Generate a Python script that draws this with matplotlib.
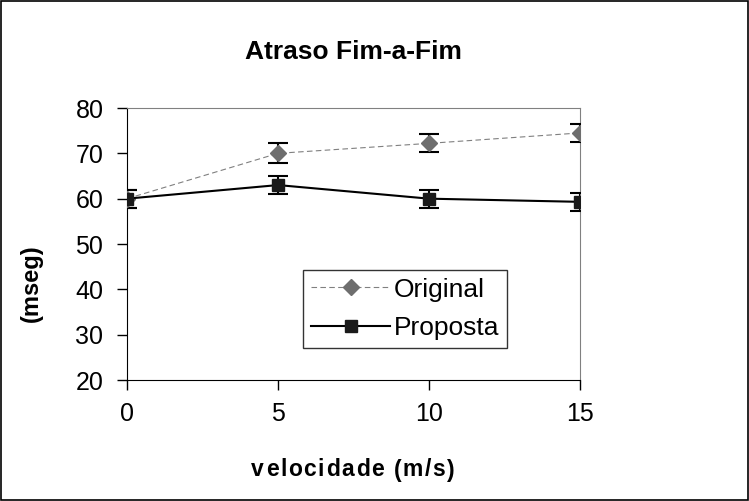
import matplotlib
matplotlib.use("Agg")
import matplotlib.pyplot as plt
from matplotlib.patches import Rectangle
from matplotlib.lines import Line2D
from matplotlib.font_manager import FontProperties, findfont
from matplotlib.ft2font import FT2Font

plt.rcParams['font.family'] = ['Liberation Sans', 'DejaVu Sans']

x = [0, 5, 10, 15]
original = [60.0, 70.0, 72.2, 74.5]
original_err = [2.0, 2.2, 2.0, 2.0]
proposta = [60.0, 63.0, 60.0, 59.3]
proposta_err = [2.0, 2.0, 2.0, 2.0]
xticks = [0, 5, 10, 15]
yticks = [20, 30, 40, 50, 60, 70, 80]
title = 'Atraso Fim-a-Fim'
xlabel = 'velocidade (m/s)'
ylabel = '(mseg)'

W, H = 749, 501
fig = plt.figure(figsize=(W / 100, H / 100), dpi=100)
fig.patches.append(Rectangle((0.002, 0.002), 0.996, 0.996, transform=fig.transFigure,
                             fill=False, edgecolor='black', linewidth=1.2))
ax = fig.add_axes([127 / W, 1 - 380 / H, (580 - 127) / W, (380 - 108) / H])

ax.errorbar(x, original, yerr=original_err, color='#808080', linestyle=(0, (5, 3)),
            linewidth=0.8, marker='D', markersize=8, markerfacecolor='#6e6e6e',
            markeredgecolor='#6e6e6e', ecolor='black', elinewidth=1.5, capsize=7,
            capthick=1.5, zorder=3)
ax.errorbar(x, proposta, yerr=proposta_err, color='black', linestyle='-',
            linewidth=1.5, marker='s', markersize=8, markerfacecolor='#1a1a1a',
            markeredgecolor='#1a1a1a', ecolor='black', elinewidth=1.5, capsize=7,
            capthick=1.5, zorder=3)

ax.set_xlim(0, 15)
ax.set_ylim(20, 80)
ax.set_xticks(xticks)
ax.set_yticks(yticks)
ax.tick_params(axis='both', labelsize=18, direction='out', length=7, width=1)
ax.tick_params(axis='x', pad=9)
ax.tick_params(axis='y', pad=10)
for s in ['top', 'right']:
    ax.spines[s].set_color('#808080')
for s in ['left', 'bottom']:
    ax.spines[s].set_color('black')

fig.text(353 / W, 1 - 52 / H, title, fontsize=19, fontweight='bold',
         ha='center', va='center')
fig.text(31 / W, 1 - 283 / H, ylabel, fontsize=17, fontweight='bold',
         ha='center', va='center', rotation=90)

# letter-spaced x label
fsize = 16.5
spacing_px = 1.6
prop = FontProperties(family='Liberation Sans', weight='bold', size=fsize)
font = FT2Font(findfont(prop))
font.set_size(fsize, 100)
adv = []
for ch in xlabel:
    g = font.load_char(ord(ch))
    adv.append(g.linearHoriAdvance / 65536.0)
total = sum(adv) + spacing_px * (len(xlabel) - 1)
cx = 353 - total / 2
for ch, a in zip(xlabel, adv):
    if ch != ' ':
        fig.text((cx + a / 2) / W, 1 - 470 / H, ch, fontproperties=prop,
                 ha='center', va='center')
    cx += a + spacing_px

handles = [
    Line2D([], [], color='#808080', linestyle=(0, (5, 3)), linewidth=0.8, marker='D',
           markersize=8, markerfacecolor='#6e6e6e', markeredgecolor='#6e6e6e'),
    Line2D([], [], color='black', linestyle='-', linewidth=1.5, marker='s',
           markersize=8, markerfacecolor='#1a1a1a', markeredgecolor='#1a1a1a'),
]
labels = ['Original', 'Proposta']
leg = ax.legend(handles, labels, loc='lower left',
                bbox_to_anchor=((303 - 127) / 453, (380 - 348) / 272, 204 / 453, 84 / 272),
                mode='expand', fontsize=19, frameon=True, fancybox=False, handlelength=3.0,
                borderpad=0.3, labelspacing=0.55, handletextpad=0.15, borderaxespad=0)
leg.get_frame().set_edgecolor('black')
leg.get_frame().set_linewidth(1)

fig.savefig('out.png', dpi=100)
